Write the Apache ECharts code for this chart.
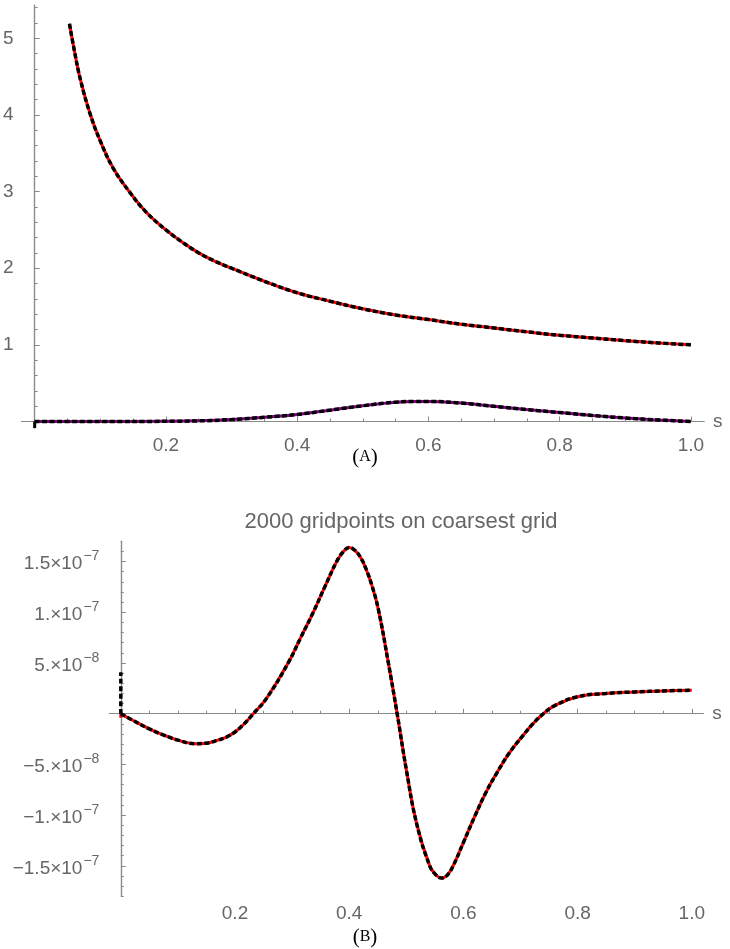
<!DOCTYPE html>
<html><head><meta charset="utf-8">
<script src="https://cdn.jsdelivr.net/npm/echarts@6/dist/echarts.min.js"></script>
<style>html,body{margin:0;padding:0;background:#fff}#c{width:730px;height:949px}</style>
</head><body><div id="c"></div>
<script>
// ---- data ----
const topS = [0.053, 0.06, 0.07, 0.085, 0.1, 0.12, 0.145, 0.17, 0.2, 0.225, 0.25, 0.275, 0.3, 0.35, 0.4, 0.45, 0.5, 0.55, 0.6, 0.65, 0.7, 0.75, 0.8, 0.85, 0.9, 0.95, 1.0];
const topV = [5.19, 4.86, 4.45, 4.0, 3.66, 3.3, 2.99, 2.73, 2.5, 2.34, 2.2, 2.09, 2.0, 1.83, 1.68, 1.57, 1.47, 1.39, 1.33, 1.27, 1.22, 1.17, 1.125, 1.09, 1.055, 1.025, 1.0];
const bumpS = [0, 0.1, 0.2, 0.25, 0.3, 0.35, 0.4, 0.45, 0.5, 0.55, 0.58, 0.6, 0.65, 0.7, 0.75, 0.8, 0.85, 0.9, 0.95, 1.0];
const bumpV = [0, 0, 0.002, 0.008, 0.025, 0.055, 0.092, 0.148, 0.205, 0.252, 0.262, 0.262, 0.24, 0.198, 0.155, 0.117, 0.079, 0.045, 0.02, 0];
const spikeTopS = [0, 0];
const spikeTopV = [0, -0.085];
const botS = [0, 0.02, 0.05, 0.075, 0.1, 0.13, 0.15, 0.17, 0.185, 0.2, 0.216, 0.232, 0.255, 0.293, 0.315, 0.337, 0.358, 0.378, 0.39, 0.4, 0.41, 0.42, 0.43, 0.44, 0.451, 0.468, 0.484, 0.5, 0.518, 0.541, 0.552, 0.562, 0.572, 0.582, 0.6, 0.62, 0.64, 0.66, 0.68, 0.705, 0.72, 0.74, 0.76, 0.8, 0.85, 0.9, 0.95, 1.0];
const botV = [0, -0.62e-8, -1.5e-8, -2.1e-8, -2.6e-8, -2.95e-8, -2.9e-8, -2.6e-8, -2.3e-8, -1.8e-8, -1.0e-8, 0, 1.5e-8, 5.0e-8, 7.5e-8, 10.0e-8, 12.6e-8, 15.0e-8, 16.0e-8, 16.4e-8, 16.1e-8, 15.4e-8, 14.2e-8, 12.6e-8, 10.3e-8, 5.2e-8, 0, -5.5e-8, -10.8e-8, -15.0e-8, -15.9e-8, -16.2e-8, -15.9e-8, -15.0e-8, -12.7e-8, -10.1e-8, -7.7e-8, -5.7e-8, -3.9e-8, -2.1e-8, -1.1e-8, 0, 0.8e-8, 1.68e-8, 2.0e-8, 2.15e-8, 2.25e-8, 2.31e-8];
const spikeBotS = [0, 0];
const spikeBotV = [0, 4.1e-8];
const spikeBotRedS = [0, 0];
const spikeBotRedV = [0, -0.4e-8];

// ---- ticks ----
const xTicks = [0.2, 0.4, 0.6, 0.8, 1.0];
const topYTicks = [1, 2, 3, 4, 5];
const botYTicks = [-1.5e-7, -1e-7, -5e-8, 5e-8, 1e-7, 1.5e-7];
const botYMant = ['\u22121.5', '\u22121.', '\u22125.', '5.', '1.', '1.5'];
const botYExp = ['\u22127', '\u22127', '\u22128', '\u22128', '\u22127', '\u22127'];
const titleText = '2000 gridpoints on coarsest grid';

const xMinor = []; for (let i = 1; i <= 20; i++) if (i % 4) xMinor.push(+(i * 0.05).toFixed(3));
const topYMinor = []; for (let i = 1; i <= 27; i++) if (i % 5) topYMinor.push(+(i * 0.2).toFixed(3));
const botYMinor = []; for (let i = -18; i <= 17; i++) if (i % 5) botYMinor.push(i * 1e-8);

const zip = (a, b) => a.map((v, i) => [v, b[i]]);
const FONT = 'Liberation Sans';
const AX = '#8a8a8a', LAB = '#666666';

function xAx(grid, minor, zeroIdx) {
  return {
    type: 'value', gridIndex: grid, min: -0.02, max: 1.02, position: 'bottom',
    axisLine: { show: true, onZero: true, onZeroAxisIndex: zeroIdx, lineStyle: { color: AX, width: 1.2 } },
    axisTick: { show: true, inside: true, length: minor ? 3 : 5, customValues: minor ? xMinor : xTicks, lineStyle: { color: AX, width: 1 } },
    axisLabel: minor ? { show: false } : { show: true, customValues: xTicks, margin: 8, fontSize: 19, fontFamily: FONT, color: LAB, formatter: v => v.toFixed(1) },
    splitLine: { show: false },
    name: minor ? '' : 's', nameLocation: 'end', nameGap: 9,
    nameTextStyle: { fontSize: 19, fontFamily: FONT, color: LAB }
  };
}
function yAx(grid, minor, zeroIdx, min, max, ticks, minorTicks, label) {
  return {
    type: 'value', gridIndex: grid, min: min, max: max, position: 'left',
    axisLine: { show: true, onZero: true, onZeroAxisIndex: zeroIdx, lineStyle: { color: AX, width: 1.2 } },
    axisTick: { show: true, inside: true, length: minor ? 3 : 5, customValues: minor ? minorTicks : ticks, lineStyle: { color: AX, width: 1 } },
    axisLabel: minor ? { show: false } : label,
    splitLine: { show: false }
  };
}

const topLabel = { show: true, customValues: topYTicks, margin: 8, fontSize: 19, fontFamily: FONT, color: LAB, formatter: v => String(Math.round(v)) };
const botLabel = {
  show: true, customValues: botYTicks, margin: 10, fontFamily: FONT, color: LAB,
  formatter: v => {
    const i = botYTicks.findIndex(t => Math.abs(t - v) < 1e-12);
    return '{m|' + botYMant[i] + '\u00d710}{e|' + botYExp[i] + '}';
  },
  rich: {
    m: { fontSize: 19, fontFamily: FONT, color: LAB, padding: [5, 0, 0, 0], verticalAlign: 'bottom' },
    e: { fontSize: 14, fontFamily: FONT, color: LAB, verticalAlign: 'top', padding: [0, 0, 0, 1] }
  }
};

function line(data, xi, yi, color, width, dashed, z) {
  return {
    type: 'line', xAxisIndex: xi, yAxisIndex: yi, data: data, showSymbol: false, symbol: 'none',
    smooth: 0.45, z: z, silent: true,
    lineStyle: { color: color, width: width, type: dashed ? [5, 2.5] : 'solid', cap: 'butt' }
  };
}

const capRich = { p: { fontSize: 21, fontFamily: 'Liberation Serif', fill: '#000' }, c: { fontSize: 16, fontFamily: 'Liberation Serif', fill: '#000' } };
const chart = echarts.init(document.getElementById('c'), null, { renderer: 'canvas' });
chart.setOption({
  animation: false,
  backgroundColor: '#fff',
  grid: [
    { left: 14, top: 5, width: 690, height: 423 },
    { left: 109.4, top: 541.3, width: 593.8, height: 355 }
  ],
  xAxis: [xAx(0, false, 0), xAx(0, true, 1), xAx(1, false, 2), xAx(1, true, 3)],
  yAxis: [
    yAx(0, false, 0, -0.085, 5.435, topYTicks, null, topLabel),
    yAx(0, true, 1, -0.085, 5.435, topYTicks, topYMinor, null),
    yAx(1, false, 2, -1.8e-7, 1.7e-7, botYTicks, null, botLabel),
    yAx(1, true, 3, -1.8e-7, 1.7e-7, botYTicks, botYMinor, null)
  ],
  graphic: [
    { type: 'text', x: 365, y: 457, style: { text: '{p|(}{c|A}{p|)}', textAlign: 'center', textVerticalAlign: 'middle', rich: capRich } },
    { type: 'text', x: 365, y: 937, style: { text: '{p|(}{c|B}{p|)}', textAlign: 'center', textVerticalAlign: 'middle', rich: capRich } },
    { type: 'text', x: 401, y: 522, style: { text: titleText, textAlign: 'center', textVerticalAlign: 'middle', fontSize: 22, fontFamily: FONT, fill: '#666666' } }
  ],
  series: [
    line(zip(topS, topV), 0, 0, '#ff0000', 3, false, 3),
    line(zip(topS, topV), 0, 0, '#000000', 3.5, true, 4),
    line(zip(bumpS, bumpV), 0, 0, '#800080', 3, false, 3),
    line(zip(bumpS, bumpV), 0, 0, '#000000', 3.5, true, 4),
    line(zip(spikeTopS, spikeTopV), 0, 0, '#000000', 3, false, 4),
    line(zip(spikeBotRedS, spikeBotRedV), 2, 2, '#ff0000', 3, false, 3),
    line(zip(botS, botV), 2, 2, '#ff0000', 3, false, 3),
    line(zip(botS, botV), 2, 2, '#000000', 3.5, true, 4),
    line(zip(spikeBotS, spikeBotV), 2, 2, '#000000', 3.5, true, 4)
  ]
});
</script></body></html>
